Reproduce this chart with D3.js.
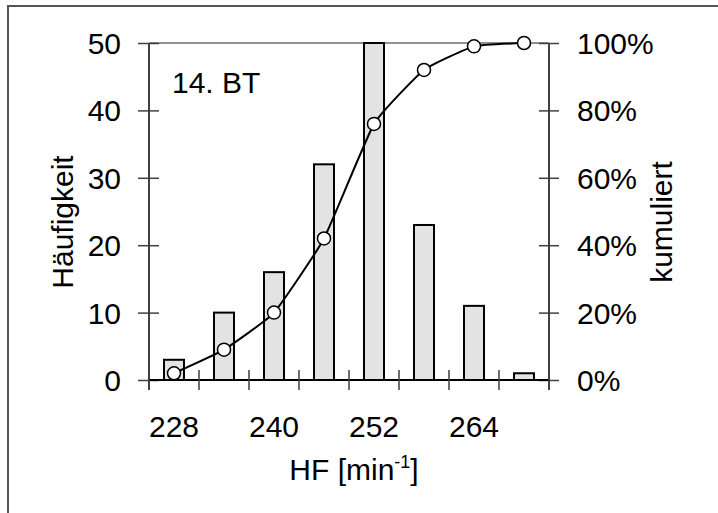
<!DOCTYPE html>
<html>
<head>
<meta charset="utf-8">
<script src="https://cdn.jsdelivr.net/npm/d3@7"></script>
<style>
  body { margin: 0; background: #ffffff; }
  text { font-family: "Liberation Sans", Arial, sans-serif; fill: #000; }
</style>
</head>
<body>
<svg id="chart" width="718" height="513"></svg>
<script>
// Klassen (HF in 1/min) und Häufigkeiten
const categories = [228, 234, 240, 246, 252, 258, 264, 270];
const counts = [3, 10, 16, 32, 50, 23, 11, 1];
// kumulierte Anteile in %
const cumulative = [2, 9, 20, 42, 76, 92, 99, 100];
// Achsenbeschriftungen
const xTickLabels = [228, 240, 252, 264];
const yTicks = [0, 10, 20, 30, 40, 50];
const y2Ticks = [0, 20, 40, 60, 80, 100];

const svg = d3.select('#chart');
const margin = { left: 149, right: 169, top: 43, bottom: 133 };
const width = 718 - margin.left - margin.right;   // 400
const height = 513 - margin.top - margin.bottom;  // 337

// äußerer Rahmen (nur links und oben sichtbar)
svg.append('rect')
    .attr('x', 8).attr('y', 6)
    .attr('width', 740).attr('height', 540)
    .attr('fill', 'none')
    .attr('stroke', '#555')
    .attr('stroke-width', 2);

const g = svg.append('g')
    .attr('transform', `translate(${margin.left}, ${margin.top})`);

// Skalen
const xScale = d3.scaleBand()
    .domain(categories)
    .range([0, width])
    .paddingInner(0.6)
    .paddingOuter(0.3);

const yScale = d3.scaleLinear().domain([0, 50]).range([height, 0]);
const y2Scale = d3.scaleLinear().domain([0, 100]).range([height, 0]);

// obere Begrenzungslinie
g.append('line')
    .attr('x1', 0).attr('x2', width)
    .attr('y1', yScale(50)).attr('y2', yScale(50))
    .attr('stroke', '#909090')
    .attr('stroke-width', 2);

// Balken
g.selectAll('rect.bar')
    .data(counts)
    .enter()
    .append('rect')
    .attr('class', 'bar')
    .attr('x', (d, i) => xScale(categories[i]))
    .attr('y', d => yScale(d))
    .attr('width', xScale.bandwidth())
    .attr('height', d => height - yScale(d))
    .attr('fill', '#e3e3e3')
    .attr('stroke', '#000')
    .attr('stroke-width', 2);

// linke Achse, Ticks kreuzen die Achse
const yAxis = d3.axisLeft(yScale).tickValues(yTicks).tickSizeOuter(0).tickFormat(d => d);
const yAxisG = g.append('g').call(yAxis);
yAxisG.select('.domain').attr('stroke', '#404040').attr('stroke-width', 2).attr('d', `M0,0V${height + 10}`);
yAxisG.selectAll('.tick line').attr('x2', -11).attr('x1', 10).attr('stroke', '#404040').attr('stroke-width', 1.5);
yAxisG.selectAll('.tick text')
    .attr('x', -28)
    .attr('dy', '0.35em')
    .attr('font-size', '30px');

// rechte Achse
const y2Axis = d3.axisRight(y2Scale).tickValues(y2Ticks).tickSizeOuter(0).tickFormat(d => d + '%');
const y2AxisG = g.append('g').attr('transform', `translate(${width}, 0)`).call(y2Axis);
y2AxisG.select('.domain').attr('stroke', '#404040').attr('stroke-width', 2).attr('d', `M0,0V${height + 10}`);
y2AxisG.selectAll('.tick line').attr('x1', -10).attr('x2', 10).attr('stroke', '#404040').attr('stroke-width', 1.5);
y2AxisG.selectAll('.tick text')
    .attr('x', 28)
    .attr('dy', '0.35em')
    .attr('font-size', '30px');

// x-Achse: Ticks an den Klassengrenzen, Beschriftung in Klassenmitte
const xBound = d3.scaleLinear().domain([0, categories.length]).range([0, width]);
const xAxisG = g.append('g').attr('transform', `translate(0, ${height})`);
xAxisG.append('line')
    .attr('x1', 0).attr('x2', width)
    .attr('stroke', '#000').attr('stroke-width', 2);
xAxisG.selectAll('line.tick')
    .data(d3.range(categories.length + 1))
    .enter()
    .append('line')
    .attr('class', 'tick')
    .attr('x1', d => xBound(d)).attr('x2', d => xBound(d))
    .attr('y1', -10).attr('y2', 10)
    .attr('stroke', '#404040').attr('stroke-width', 1.5);
xAxisG.selectAll('text')
    .data(xTickLabels)
    .enter()
    .append('text')
    .attr('x', d => xScale(d) + xScale.bandwidth() / 2)
    .attr('y', 57)
    .attr('text-anchor', 'middle')
    .attr('font-size', '30px')
    .text(d => d);

// kumulierte Linie (leicht geglättet, wie in Excel)
const lineGenerator = d3.line()
    .x((d, i) => xScale(categories[i]) + xScale.bandwidth() / 2)
    .y(d => y2Scale(d))
    .curve(d3.curveCardinal.tension(0.6));

g.append('path')
    .attr('d', lineGenerator(cumulative))
    .attr('fill', 'none')
    .attr('stroke', '#000')
    .attr('stroke-width', 2);

g.selectAll('circle')
    .data(cumulative)
    .enter()
    .append('circle')
    .attr('cx', (d, i) => xScale(categories[i]) + xScale.bandwidth() / 2)
    .attr('cy', d => y2Scale(d))
    .attr('r', 6.5)
    .attr('fill', '#fff')
    .attr('stroke', '#000')
    .attr('stroke-width', 1.5);

// Beschriftungen
g.append('text')
    .attr('x', 23).attr('y', 50)
    .attr('font-size', '30px')
    .text('14. BT');

const xTitle = g.append('text')
    .attr('x', width / 2 + 5).attr('y', 437)
    .attr('text-anchor', 'middle')
    .attr('font-size', '30px');
xTitle.append('tspan').text('HF [min');
xTitle.append('tspan').attr('font-size', '18px').attr('dy', -12).text('-1');
xTitle.append('tspan').attr('dy', 12).text(']');

svg.append('text')
    .attr('transform', `translate(73, 222) rotate(-90)`)
    .attr('text-anchor', 'middle')
    .attr('font-size', '30px')
    .text('Häufigkeit');

svg.append('text')
    .attr('transform', `translate(672, 222) rotate(-90)`)
    .attr('text-anchor', 'middle')
    .attr('font-size', '30px')
    .text('kumuliert');
</script>
</body>
</html>
